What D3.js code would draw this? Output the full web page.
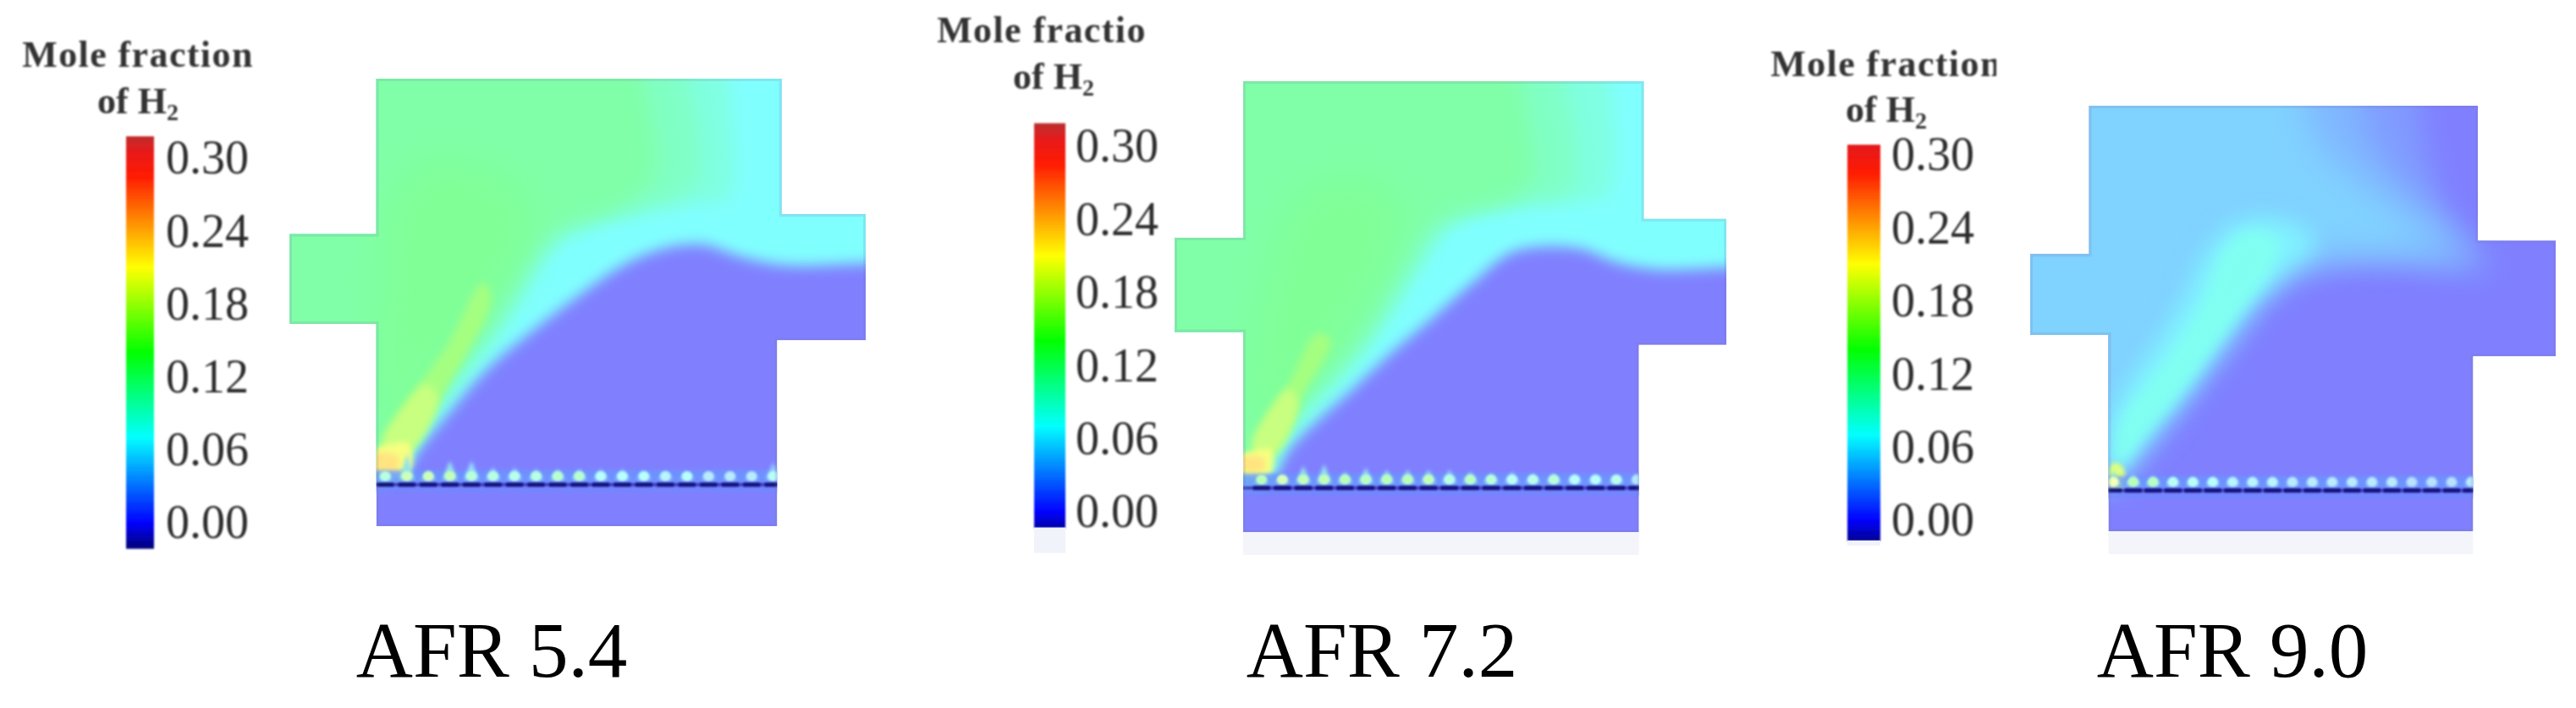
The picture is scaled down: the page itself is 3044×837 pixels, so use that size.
<!DOCTYPE html>
<html><head><meta charset="utf-8">
<script src="https://cdn.jsdelivr.net/npm/d3@7/dist/d3.min.js"></script>
<style>html,body{margin:0;padding:0;background:#fff;overflow:hidden}svg{display:block}</style>
</head><body>
<svg id="c" width="3044" height="837"></svg>
<script>
// ---------- DATA (readings, in each panel's own grid units; levels are H2 mole fraction)
const afrLabels = ["AFR 5.4", "AFR 7.2", "AFR 9.0"];
const colorTicks = [0, 0.06, 0.12, 0.18, 0.24, 0.30];
const colorStops = [-0.02, 0, 0.07, 0.14, 0.21, 0.285, 0.305, 0.32];
const colorStopHex = ["#000080", "#0000ff", "#00ffff", "#00ff00", "#ffff00", "#ff1a00", "#e81818", "#b83030"];

// Panel 1, AFR 5.4
const p1Outline = [[515,605],[670,605],[670,155],[1393,155],[1393,547],[1543,547],[1543,912],[1385,912],[1385,1450],[670,1450],[670,865],[515,865]];
const p1Cyan = [[722,1298],[740,1240],[795,1130],[865,1000],[937,900],[1017,800],[1105,700],[1175,650],[1250,635],[1320,670],[1400,695],[1543,690],[1650,690]];
const p1Mint = [[705,1298],[738,1170],[785,1070],[842,960],[885,880],[925,780],[962,680],[1015,600],[1100,550],[1210,520],[1300,500],[1310,400],[1300,155],[1300,60]];
const p1Sea = [[698,1298],[733,1180],[780,1075],[835,960],[878,875],[915,775],[950,680],[995,605],[1065,560],[1160,525],[1240,465],[1245,300],[1225,155],[1215,60]];
const p1Teal = [[692,1298],[728,1190],[772,1080],[825,960],[868,870],[905,770],[935,680],[975,605],[1035,565],[1105,525],[1165,440],[1165,300],[1145,155],[1135,60]];
const p1Green = [[680,1200],[745,1070],[820,920],[880,790],[925,680],[945,590],[935,500],[870,420],[760,400],[700,500],[680,800]];
const p1StreakLong = [[695,1230],[730,1225],[785,1080],[875,790],[860,745],[795,930],[715,1110],[685,1200]];
const p1Streak = [[685,1240],[728,1235],[780,1080],[760,1040],[712,1120],[680,1210]];
const p1Yellow = [[668,1295],[728,1295],[728,1212],[690,1215],[668,1228]];
const p1Orange = [[664,1288],[708,1288],[708,1248],[664,1242]];
const p1JetTips = [1295,1240,1290,1260,1260,1280,1280,1285,1285,1285,1285,1285,1290,1290,1295,1295,1300,1300,1265];
const p1JetValues = [0.10,0.16,0.16,0.15,0.11,0.10,0.09,0.10,0.12,0.12,0.07,0.07,0.07,0.06,0.07,0.05,0.05,0.05,0.08];

// Panel 2, AFR 7.2
const p2Outline = [[483,648],[610,648],[610,222],[1352,222],[1352,597],[1505,597],[1505,940],[1343,940],[1343,1450],[610,1450],[610,905],[483,905]];
const p2Cyan = [[670,1298],[692,1230],[745,1150],[806,1070],[886,960],[966,860],[1036,770],[1105,690],[1175,672],[1240,680],[1300,715],[1380,735],[1505,730],[1620,730]];
const p2Mint = [[650,1298],[678,1190],[715,1120],[772,1040],[840,930],[898,810],[945,710],[995,610],[1075,560],[1160,548],[1280,540],[1300,430],[1290,222],[1290,120]];
const p2Sea = [[644,1298],[670,1195],[706,1125],[762,1040],[830,930],[885,810],[928,710],[975,615],[1040,570],[1125,552],[1215,525],[1225,380],[1205,222],[1195,120]];
const p2Teal = [[638,1298],[662,1200],[698,1130],[752,1040],[820,930],[870,810],[908,710],[952,620],[1008,578],[1085,555],[1145,490],[1140,350],[1125,222],[1115,120]];
const p2Green = [[625,1200],[685,1100],[765,980],[830,840],[878,720],[900,630],[890,540],[815,490],[720,530],[650,800]];
const p2StreakLong = [[640,1240],[670,1232],[716,1090],[772,925],[746,910],[696,1040],[636,1190]];
const p2Streak = [[632,1240],[668,1236],[712,1100],[695,1060],[650,1140],[626,1210]];
const p2Yellow = [[608,1292],[660,1292],[662,1225],[630,1228],[608,1240]];
const p2Orange = [[606,1280],[648,1280],[648,1250],[606,1248]];
const p2JetTips = [1300,1295,1270,1265,1285,1275,1280,1280,1280,1280,1285,1290,1285,1290,1290,1295,1295,1295,1290];
const p2JetValues = [0.14,0.17,0.15,0.15,0.14,0.13,0.14,0.14,0.15,0.10,0.13,0.11,0.08,0.09,0.11,0.07,0.07,0.09,0.05];

// Panel 3, AFR 9.0
const p3Outline = [[550,600],[660,600],[660,195],[1385,195],[1385,562],[1530,562],[1530,878],[1376,878],[1376,1355],[696,1355],[696,820],[550,820]];
const p3Faint = [[715,1215],[768,1130],[858,970],[938,830],[1008,710],[1088,650],[1200,628],[1340,645],[1410,640],[1390,590],[1335,500],[1300,380],[1275,195],[1265,90]];
const p3Mid = [[710,1215],[755,1130],[845,968],[925,820],[990,700],[1075,625],[1190,605],[1320,615],[1375,625],[1320,520],[1240,400],[1190,290],[1170,195],[1160,90]];
const p3Blue = [[705,1215],[745,1130],[830,965],[910,810],[970,690],[1060,605],[1180,590],[1300,592],[1340,608],[1270,520],[1170,410],[1090,300],[1065,195],[1050,90]];
const p3Plume = [[705,1195],[770,1090],[840,970],[900,850],[960,740],[1025,650],[1085,570],[1020,505],[930,515],[875,600],[835,720],[780,850],[725,970],[698,1080]];
const p3Core = [[712,1180],[775,1075],[840,960],[895,850],[950,740],[1000,640],[1015,565],[960,535],[910,590],[875,720],[825,840],[770,950],[720,1050]];
const p3Tip = [[696,1240],[722,1240],[724,1182],[706,1168],[696,1190]];
const p3JetTips = [1190,1200,1205,1210,1212,1212,1212,1212,1215,1215,1215,1218,1218,1218,1218,1220,1220,1222,1205];
const p3JetValues = [0.20,0.14,0.13,0.08,0.08,0.07,0.06,0.06,0.06,0.05,0.05,0.05,0.05,0.05,0.05,0.04,0.04,0.04,0.05];

// ---------- LAYOUT
const panels = [
 { label: afrLabels[0], labelX: 581, outline: p1Outline,
   xd:[515,1543], xr:[342,1023], yd:[155,1450], yr:[93,622],
   lineY:1330, jetX:[686,1378], jetTips:p1JetTips, jetValues:p1JetValues,
   bar:{x:149,w:33,y0:618,y30:187,lo:-0.021,hi:0.318}, tickX:196,
   title:"Mole fraction", titleX:163, titleY:79, subX:163, subY:134, clipR:null,
   layers:[
    {v:.07, blur:8, edge:p1Cyan, close:[[1650,-100],[300,-100],[300,1298]]},
    {v:.086,blur:10,edge:p1Mint, close:[[300,60],[300,1298]]},
    {v:.102,blur:12,edge:p1Sea,  close:[[300,60],[300,1298]]},
    {v:.118,blur:12,edge:p1Teal, close:[[300,60],[300,1298]]},
    {v:.128,blur:24,edge:p1Green,closed:true},
    {v:.16, blur:5, edge:p1StreakLong,closed:true},
    {v:.18, blur:5, edge:p1Streak,closed:true},
    {v:.205,blur:3, edge:p1Yellow,closed:true},
    {v:.228,blur:3, edge:p1Orange,closed:true}
   ]},
 { label: afrLabels[1], labelX: 1633, outline: p2Outline,
   xd:[483,1505], xr:[1388,2040], yd:[222,1450], yr:[96,629],
   lineY:1330, jetX:[644,1340], jetTips:p2JetTips, jetValues:p2JetValues,
   bar:{x:1222,w:37,y0:605,y30:173,lo:-0.013,hi:0.319}, tickX:1271,
   title:"Mole fractio", titleX:1231, titleY:50, subX:1245, subY:105, clipR:null,
   ghost:true,
   layers:[
    {v:.07, blur:8, edge:p2Cyan, close:[[1620,-100],[300,-100],[300,1298]]},
    {v:.086,blur:10,edge:p2Mint, close:[[300,120],[300,1298]]},
    {v:.102,blur:12,edge:p2Sea,  close:[[300,120],[300,1298]]},
    {v:.118,blur:12,edge:p2Teal, close:[[300,120],[300,1298]]},
    {v:.128,blur:24,edge:p2Green,closed:true},
    {v:.16, blur:5, edge:p2StreakLong,closed:true},
    {v:.18, blur:5, edge:p2Streak,closed:true},
    {v:.205,blur:3, edge:p2Yellow,closed:true},
    {v:.228,blur:3, edge:p2Orange,closed:true}
   ]},
 { label: afrLabels[2], labelX: 2638, outline: p3Outline,
   xd:[550,1530], xr:[2399,3020], yd:[195,1355], yr:[125,628],
   lineY:1244, jetX:[705,1373], jetTips:p3JetTips, jetValues:p3JetValues,
   bar:{x:2183,w:39,y0:615,y30:183,lo:-0.0167,hi:0.3076}, tickX:2235,
   title:"Mole fraction", titleX:2229, titleY:90, subX:2229, subY:144, clipR:2359,
   ghost:true,
   layers:[
    {v:.015,blur:16,edge:p3Faint,close:[[300,90],[300,1215]]},
    {v:.03, blur:18,edge:p3Mid,  close:[[300,90],[300,1215]]},
    {v:.045,blur:20,edge:p3Blue, close:[[300,90],[300,1215]]},
    {v:.062,blur:13,edge:p3Plume,closed:true},
    {v:.078,blur:8, edge:p3Core, closed:true},
    {v:.19, blur:2.5,edge:p3Tip,closed:true}
   ]}
];

// ---------- DRAW
const svg = d3.select("#c");
const defs = svg.append("defs");
const serif = "'Liberation Serif','Times New Roman',serif";
const jet = d3.scaleLinear().domain(colorStops).range(colorStopHex).clamp(true);
const field = v => d3.interpolateRgb(jet(v), "#ffffff")(0.5);

const blurIds = new Map();
function blur(s){
  if(!blurIds.has(s)){
    const id = "b"+blurIds.size;
    blurIds.set(s,id);
    defs.append("filter").attr("id",id).attr("filterUnits","userSpaceOnUse")
      .attr("x",-100).attr("y",-100).attr("width",3300).attr("height",1100)
      .attr("color-interpolation-filters","sRGB")
      .append("feGaussianBlur").attr("stdDeviation",s);
  }
  return `url(#${blurIds.get(s)})`;
}

panels.forEach((p,i)=>{
  const x = d3.scaleLinear().domain(p.xd).range(p.xr);
  const y = d3.scaleLinear().domain(p.yd).range(p.yr);
  const lin = d3.line().x(d=>x(d[0])).y(d=>y(d[1]));
  const cur = d3.line().x(d=>x(d[0])).y(d=>y(d[1])).curve(d3.curveCatmullRom.alpha(0.5));
  const g = svg.append("g").attr("class","panel");

  defs.append("clipPath").attr("id","clip"+i).append("path").attr("d",lin(p.outline)+"Z");

  // faint band under the chamber
  if(p.ghost){
    const xs = [p.outline[9][0], p.outline[8][0]];
    g.append("rect").attr("x",x(xs[0])).attr("width",x(xs[1])-x(xs[0]))
      .attr("y",y(p.yd[1])).attr("height",27).attr("fill","#f3f5fb");
  }

  const body = g.append("g").attr("clip-path",`url(#clip${i})`);
  body.append("path").attr("d",lin(p.outline)+"Z").attr("fill",field(0));

  // field levels
  p.layers.forEach(l=>{
    const d = l.closed
      ? d3.line().x(a=>x(a[0])).y(a=>y(a[1])).curve(d3.curveCatmullRomClosed.alpha(0.5))(l.edge)
      : cur(l.edge)+l.close.map(a=>`L${x(a[0])},${y(a[1])}`).join("")+"Z";
    body.append("path").attr("d",d).attr("fill",field(l.v)).attr("filter",blur(l.blur));
  });

  // slot jets along the plate
  const js = d3.scaleLinear().domain([0,p.jetValues.length-1]).range(p.jetX);
  const jx = j => x(js(j));
  const baseY = y(p.lineY);
  const jets = d3.range(p.jetValues.length);
  body.append("rect").attr("x",p.xr[0]).attr("width",p.xr[1]-p.xr[0])
    .attr("y",baseY-17).attr("height",15).attr("fill","#6a96ff").attr("opacity",.8).attr("filter",blur(2));
  body.append("g").attr("filter",blur(2)).selectAll("path").data(jets).join("path")
    .attr("d",j=>`M${jx(j)-9},${baseY-6}L${jx(j)},${y(p.jetTips[j])}L${jx(j)+9},${baseY-6}Z`)
    .attr("fill",j=>d3.interpolateRgb(field(p.jetValues[j]*.6),"#a8c4ff")(.5));
  body.append("g").attr("filter",blur(1.8)).selectAll("ellipse").data(jets).join("ellipse")
    .attr("cx",j=>jx(j)).attr("cy",baseY-10).attr("rx",6.5).attr("ry",6)
    .attr("fill",j=>d3.interpolateRgb(field(p.jetValues[j]),"#ffffff")(.45));

  // plate line
  body.append("rect").attr("x",p.xr[0]).attr("width",p.xr[1]-p.xr[0])
    .attr("y",baseY+3).attr("height",6).attr("fill","#6f88ff").attr("opacity",.7).attr("filter",blur(1.2));
  const plate = body.append("g").attr("filter",blur(.9));
  plate.append("rect").attr("x",p.xr[0]).attr("width",p.xr[1]-p.xr[0])
    .attr("y",baseY-2).attr("height",4).attr("fill","#3a46c0");
  plate.selectAll("line").data(jets).join("line")
    .attr("x1",j=>jx(j)-10).attr("x2",j=>jx(j)+10).attr("y1",baseY).attr("y2",baseY)
    .attr("stroke","#12127a").attr("stroke-width",5);

  // chamber edge
  body.append("path").attr("d",lin(p.outline)+"Z").attr("fill","none")
    .attr("stroke","#75709f").attr("stroke-opacity",.16).attr("stroke-width",6);

  // colour bar
  const c = p.bar;
  const cy = d3.scaleLinear().domain([0,0.30]).range([c.y0,c.y30]);
  const steps = d3.range(c.lo, c.hi, 0.001);
  const bar = g.append("g").attr("filter",blur(.9));
  bar.selectAll("rect").data(steps).join("rect")
    .attr("x",c.x).attr("width",c.w)
    .attr("y",d=>cy(d+0.001)).attr("height",d=>cy(d)-cy(d+0.001)+0.6)
    .attr("fill",d=>jet(d));
  if(p.ghost){
    g.append("rect").attr("x",c.x).attr("width",c.w).attr("y",cy(c.lo)).attr("height",i===1?30:6)
      .attr("fill","#f1f3fb");
  }

  const axis = d3.axisRight(cy).tickValues(colorTicks).tickFormat(d3.format(".2f")).tickSize(0).tickPadding(0);
  const ax = g.append("g").attr("class","ticks").attr("transform",`translate(${p.tickX},0)`).attr("filter",blur(.9)).call(axis);
  ax.select(".domain").remove();
  ax.selectAll("text").attr("font-family",serif).attr("font-size",56).attr("fill","#2c2c2c");

  // legend title
  let tg = g.append("g").attr("filter",blur(.9));
  if(p.clipR){
    defs.append("clipPath").attr("id","tclip"+i).append("rect").attr("x",0).attr("y",0).attr("width",p.clipR).attr("height",p.subY+22);
    tg = tg.append("g").attr("clip-path",`url(#tclip${i})`);
  }
  tg.append("text").attr("x",p.titleX).attr("y",p.titleY).attr("text-anchor","middle")
    .attr("font-family",serif).attr("font-weight","bold").attr("font-size",44).attr("letter-spacing",1.4).attr("fill","#333").text(p.title);
  const st = tg.append("text").attr("x",p.subX).attr("y",p.subY).attr("text-anchor","middle")
    .attr("font-family",serif).attr("font-weight","bold").attr("font-size",44).attr("fill","#333");
  st.append("tspan").text("of H");
  st.append("tspan").attr("font-size",28).attr("dy",8).text("2");

  // case label
  g.append("text").attr("x",p.labelX).attr("y",800).attr("text-anchor","middle")
    .attr("font-family",serif).attr("font-size",93).attr("fill","#000").text(p.label);
});
</script>
</body></html>
